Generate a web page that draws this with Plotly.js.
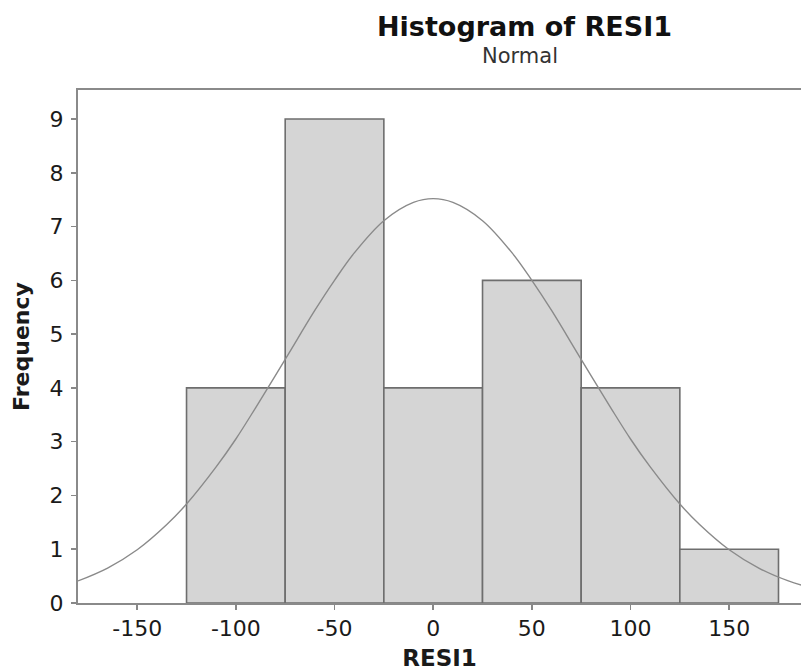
<!DOCTYPE html>
<html>
<head>
<meta charset="utf-8">
<script src="https://cdn.plot.ly/plotly-3.0.1.min.js"></script>
<style>html,body{margin:0;padding:0;background:#fff;}#chart{width:801px;height:671px;}</style>
</head>
<body>
<div id="chart"></div>
<script>
// Histogram bins (centres) and frequencies
const binCenters = [-100, -50, 0, 50, 100, 150];
const frequencies = [4, 9, 4, 6, 4, 1];
const binWidth = 50;

// Fitted normal curve
const curveX = [-180, -165, -150, -135, -125, -110, -100, -90, -75, -60, -50, -40, -25, -10, 0, 10, 25, 40, 50, 60, 75, 90, 100, 110, 125, 135, 150, 165, 180, 187];
const curveY = [0.41, 0.65, 0.99, 1.46, 1.84, 2.53, 3.05, 3.63, 4.53, 5.44, 6.00, 6.51, 7.11, 7.45, 7.52, 7.45, 7.11, 6.51, 6.00, 5.44, 4.53, 3.63, 3.05, 2.53, 1.84, 1.46, 0.99, 0.65, 0.41, 0.33];

const xTicks = [-150, -100, -50, 0, 50, 100, 150];
const yTicks = [0, 1, 2, 3, 4, 5, 6, 7, 8, 9];

const fontFam = '"DejaVu Sans", Verdana, sans-serif';
const ink = '#1a1a1a';

const traces = [
  {
    type: 'bar',
    x: binCenters,
    y: frequencies,
    width: binWidth,
    marker: {color: '#d5d5d5', line: {color: '#6e6e6e', width: 1.6}},
    hoverinfo: 'x+y'
  },
  {
    type: 'scatter',
    mode: 'lines',
    x: curveX,
    y: curveY,
    line: {color: '#8a8a8a', width: 1.4, shape: 'spline'},
    hoverinfo: 'skip'
  }
];

const layout = {
  width: 801,
  height: 671,
  margin: {l: 78, r: 0, t: 90, b: 68},
  paper_bgcolor: '#ffffff',
  plot_bgcolor: '#ffffff',
  showlegend: false,
  bargap: 0,
  font: {family: fontFam, color: ink},
  xaxis: {
    range: [-180, 186.4],
    tickmode: 'array',
    tickvals: xTicks,
    ticktext: xTicks.map(String),
    ticks: 'outside',
    ticklen: 5,
    tickwidth: 1.5,
    tickcolor: '#888',
    showline: true,
    linecolor: '#8a8a8a',
    linewidth: 2,
    mirror: true,
    showgrid: false,
    zeroline: false,
    tickfont: {family: fontFam, size: 22, color: ink},
    title: {text: '<b>RESI1</b>', font: {family: fontFam, size: 23, color: ink}, standoff: 9}
  },
  yaxis: {
    range: [0, 9.54],
    tickmode: 'array',
    tickvals: yTicks,
    ticktext: yTicks.map(String),
    ticks: 'outside',
    ticklen: 5,
    tickwidth: 1.5,
    tickcolor: '#888',
    showline: true,
    linecolor: '#8a8a8a',
    linewidth: 2,
    showgrid: false,
    zeroline: false,
    ticklabelstandoff: 3,
    tickfont: {family: fontFam, size: 22, color: ink},
    title: {text: '<b>Frequency</b>', font: {family: fontFam, size: 22, color: ink}, standoff: 14}
  },
  annotations: [
    {text: '<b>Histogram of RESI1</b>', xref: 'paper', yref: 'paper', x: 0.617, y: 1, yshift: 64, showarrow: false, xanchor: 'center', yanchor: 'middle', font: {family: fontFam, size: 27, color: '#111'}},
    {text: 'Normal', xref: 'paper', yref: 'paper', x: 0.612, y: 1, yshift: 34, showarrow: false, xanchor: 'center', yanchor: 'middle', font: {family: fontFam, size: 21, color: '#333'}}
  ]
};

Plotly.newPlot('chart', traces, layout, {displayModeBar: false, staticPlot: true});
</script>
</body>
</html>
